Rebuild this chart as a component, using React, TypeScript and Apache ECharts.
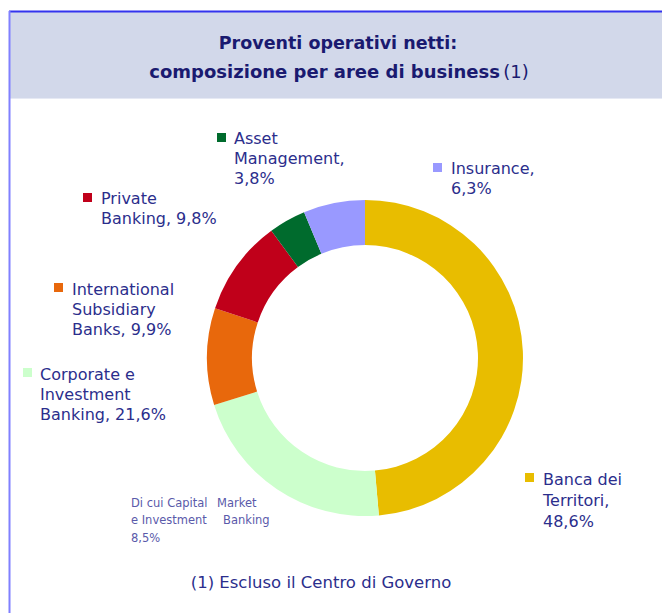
import React, { useEffect, useRef } from "react";
import * as echarts from "echarts";

const categories = [
  "Banca dei Territori",
  "Corporate e Investment Banking",
  "International Subsidiary Banks",
  "Private Banking",
  "Asset Management",
  "Insurance",
];
const values = [48.6, 21.6, 9.9, 9.8, 3.8, 6.3];
const colors = ["#E8BD00", "#CCFFCC", "#E8680C", "#C0001A", "#006B2D", "#9999FF"];
const labelTexts = [
  "Banca dei\nTerritori,\n48,6%",
  "Corporate e\nInvestment\nBanking, 21,6%",
  "International\nSubsidiary\nBanks, 9,9%",
  "Private\nBanking, 9,8%",
  "Asset\nManagement,\n3,8%",
  "Insurance,\n6,3%",
];
// label layout: [markerX, markerY, textX, textTop, lineHeight]
const labelPos = [
  [525, 473, 543, 469, 21],
  [23, 368, 40, 364, 20],
  [54, 283, 72, 279, 20],
  [83, 193, 101, 188, 20],
  [217, 133, 234, 128, 20],
  [433, 163, 451, 158, 20],
];

const TEXT = "#2B2E8C";
const FONT = "'DejaVu Sans', Verdana, sans-serif";

export default function App() {
  const ref = useRef<HTMLDivElement>(null);
  useEffect(() => {
    if (!ref.current) return;
    const chart = echarts.init(ref.current, undefined, { renderer: "svg" });
    const labelGraphics: any[] = [];
    categories.forEach((_, i) => {
      const [mx, my, tx, ty, lh] = labelPos[i];
      labelGraphics.push({
        type: "rect",
        shape: { x: mx, y: my, width: 9, height: 9 },
        style: { fill: colors[i] },
        z: 10,
      });
      labelGraphics.push({
        type: "text",
        x: tx,
        y: ty,
        style: {
          text: labelTexts[i],
          fill: TEXT,
          font: `16px ${FONT}`,
          lineHeight: lh,
          verticalAlign: "top",
          align: "left",
        },
        z: 10,
      });
    });
    const small = (t: string, x: number, y: number) => ({
      type: "text",
      x,
      y,
      style: {
        text: t,
        fill: "#5A5AAA",
        font: `11.5px ${FONT}`,
        verticalAlign: "middle",
        align: "left",
      },
      z: 10,
    });
    chart.setOption({
      animation: false,
      backgroundColor: "#ffffff",
      graphic: [
        {
          type: "rect",
          shape: { x: 10, y: 12, width: 652, height: 86 },
          style: { fill: "#D2D8EA" },
          z: 0,
        },
        {
          type: "line",
          shape: { x1: 10, y1: 98.5, x2: 662, y2: 98.5 },
          style: { stroke: "#E6E9F4", lineWidth: 1 },
          z: 1,
        },
        {
          type: "line",
          shape: { x1: 9, y1: 11.5, x2: 662, y2: 11.5 },
          style: { stroke: "#3333EE", lineWidth: 2 },
          z: 2,
        },
        {
          type: "line",
          shape: { x1: 9.5, y1: 11, x2: 9.5, y2: 613 },
          style: { stroke: "#8080FF", lineWidth: 2 },
          z: 2,
        },
        {
          type: "text",
          x: 338,
          y: 43,
          style: {
            text: "Proventi operativi netti:",
            fill: "#1A1A70",
            font: `bold 17.5px ${FONT}`,
            align: "center",
            verticalAlign: "middle",
          },
          z: 5,
        },
        {
          type: "text",
          x: 339,
          y: 71,
          style: {
            text: "{b|composizione per aree di business} {n|(1)}",
            align: "center",
            verticalAlign: "middle",
            rich: {
              b: { fill: "#1A1A70", font: `bold 18px ${FONT}` },
              n: { fill: "#1A1A70", font: `18px ${FONT}` },
            },
          },
          z: 5,
        },
        ...labelGraphics,
        small("Di cui Capital", 131, 503),
        small("Market", 217, 503),
        small("e Investment", 131, 520),
        small("Banking", 223, 520),
        small("8,5%", 131, 538),
        {
          type: "text",
          x: 321,
          y: 582,
          style: {
            text: "(1) Escluso il Centro di Governo",
            fill: TEXT,
            font: `16.5px ${FONT}`,
            align: "center",
            verticalAlign: "middle",
          },
          z: 5,
        },
      ],
      series: [
        {
          type: "pie",
          center: [365, 358],
          radius: [113, 158],
          startAngle: 90,
          clockwise: true,
          label: { show: false },
          labelLine: { show: false },
          silent: true,
          itemStyle: { borderWidth: 0 },
          data: categories.map((name, i) => ({
            name,
            value: values[i],
            itemStyle: { color: colors[i] },
          })),
        },
      ],
    });
    return () => chart.dispose();
  }, []);
  return (
    <div
      ref={ref}
      style={{ position: "fixed", left: 0, top: 0, width: 662, height: 613 }}
    />
  );
}
